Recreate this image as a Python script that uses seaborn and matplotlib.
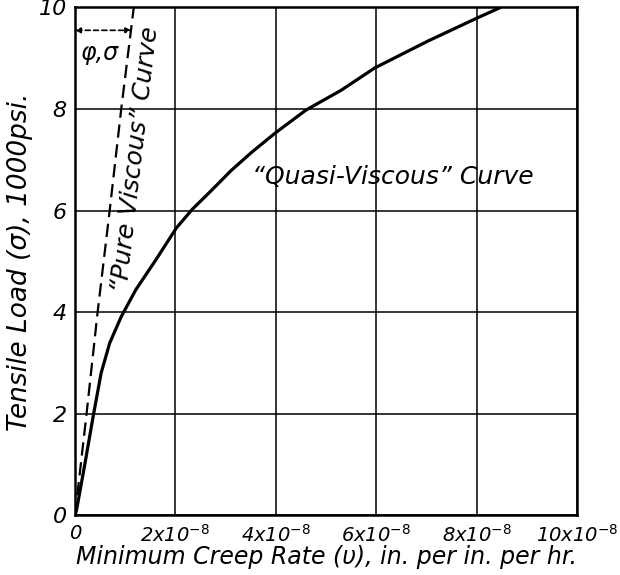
import matplotlib
matplotlib.use("Agg")
import matplotlib.pyplot as plt
import seaborn as sns
import pandas as pd

# Data (creep rate in units of 1e-8 in/in/hr, load in 1000 psi)
quasi_rate = [0.0, 0.03, 0.20, 0.36, 0.52, 0.69, 0.92, 1.21, 1.61, 2.02, 2.34, 2.71, 3.11, 3.52, 3.99, 4.60, 5.30, 5.97, 7.03, 7.98, 8.47]
quasi_load = [0.0, 0.10, 1.03, 1.94, 2.80, 3.39, 3.91, 4.44, 5.03, 5.66, 6.03, 6.39, 6.79, 7.15, 7.53, 7.98, 8.37, 8.81, 9.34, 9.78, 10.0]
pure_rate = [0.0, 0.23, 0.45, 0.69, 0.92, 1.17]
pure_load = [0.0, 2.0, 4.0, 6.0, 8.0, 10.0]
x_ticks = [0, 2, 4, 6, 8, 10]
x_tick_labels = ["0", r"2x10$^{-8}$", r"4x10$^{-8}$", r"6x10$^{-8}$", r"8x10$^{-8}$", r"10x10$^{-8}$"]
y_ticks = [0, 2, 4, 6, 8, 10]

sns.set_style("white")
plt.rcParams['font.family'] = ['DejaVu Sans']
plt.rcParams['text.color'] = 'black'
plt.rcParams['axes.labelcolor'] = 'black'
plt.rcParams['xtick.color'] = 'black'
plt.rcParams['ytick.color'] = 'black'

fig = plt.figure(figsize=(6.2, 5.75), dpi=100)
ax = fig.add_axes([0.121, 0.104, 0.810, 0.883])

df_q = pd.DataFrame({"rate": quasi_rate, "load": quasi_load})
df_p = pd.DataFrame({"rate": pure_rate, "load": pure_load})
sns.lineplot(data=df_q, x="rate", y="load", ax=ax, color="black", lw=2.3, sort=False, estimator=None)
sns.lineplot(data=df_p, x="rate", y="load", ax=ax, color="black", lw=1.6, sort=False, estimator=None,
             linestyle=(0, (6, 3)))

ax.set_xlim(0, 10)
ax.set_ylim(0, 10)
ax.set_xticks(x_ticks)
ax.set_xticklabels(x_tick_labels, fontstyle="italic", fontsize=14)
ax.set_yticks(y_ticks)
ax.set_yticklabels([str(v) for v in y_ticks], fontstyle="italic", fontsize=16)
ax.tick_params(axis="both", length=0, pad=6)
ax.grid(True, color="black", lw=1.1)
for s in ax.spines.values():
    s.set_color("black")
    s.set_linewidth(1.8)

ax.set_xlabel("Minimum Creep Rate (υ), in. per in. per hr.", fontstyle="italic", fontsize=17, labelpad=0)
ax.set_ylabel("Tensile Load (σ), 1000psi.", fontstyle="italic", fontsize=19, labelpad=4)

# phi, sigma arrow
ax.annotate("", xy=(1.12, 9.55), xytext=(0.0, 9.55),
            arrowprops=dict(arrowstyle="<|-|>", color="black", lw=1.2, linestyle=(0, (3, 2)),
                            mutation_scale=8, shrinkA=0, shrinkB=0))
ax.text(0.12, 9.1, "φ,σ", fontstyle="italic", fontsize=17, ha="left", va="center")

ax.text(1.21, 7.0, "\u201cPure Viscous\u201d Curve", fontstyle="italic", fontsize=18,
        rotation=83.4, ha="center", va="center", rotation_mode="anchor")
ax.text(6.33, 6.66, "\u201cQuasi-Viscous\u201d Curve", fontstyle="italic", fontsize=18,
        ha="center", va="center")

fig.savefig("out.png", dpi=100)
